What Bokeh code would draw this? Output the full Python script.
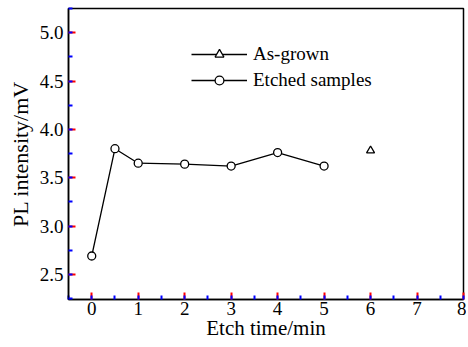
from bokeh.plotting import figure
from bokeh.models import Legend, LegendItem, Range1d, SingleIntervalTicker, CustomJSTickFormatter
from bokeh.embed import file_html
from bokeh.resources import INLINE

etch_time = [0, 0.5, 1, 2, 3, 4, 5]
etched_pl = [2.69, 3.80, 3.65, 3.64, 3.62, 3.76, 3.62]
asgrown_time = [6]
asgrown_pl = [3.78]

FONT = "Liberation Serif"

p = figure(width=466, height=345, output_backend="svg", toolbar_location=None,
           x_range=Range1d(-0.5, 8), y_range=Range1d(2.24, 5.25),
           min_border_left=68, min_border_right=3, min_border_top=8, min_border_bottom=46)
p.grid.visible = False
p.outline_line_color = "black"
p.outline_line_width = 1.5

p.xaxis.ticker = SingleIntervalTicker(interval=1, num_minor_ticks=2)
p.yaxis.ticker = SingleIntervalTicker(interval=0.5, num_minor_ticks=2)
p.yaxis.formatter = CustomJSTickFormatter(code="return tick.toFixed(1);")

p.axis.major_tick_in = 7
p.axis.major_tick_out = 0
p.axis.minor_tick_in = 4
p.axis.minor_tick_out = 0
p.axis.axis_line_width = 1.5
p.axis.major_tick_line_width = 2
p.axis.major_tick_line_color = "red"
p.axis.minor_tick_line_width = 2
p.axis.minor_tick_line_color = "blue"
p.axis.axis_line_color = "black"
p.axis.major_label_text_font = FONT
p.axis.major_label_text_font_size = "19px"
p.axis.major_label_text_color = "black"
p.axis.axis_label_text_font = FONT
p.axis.axis_label_text_font_style = "normal"
p.axis.axis_label_text_color = "black"

p.xaxis.axis_label = "Etch time/min"
p.yaxis.axis_label = "PL intensity/mV"
p.xaxis.axis_label_text_font_size = "21px"
p.yaxis.axis_label_text_font_size = "22px"
p.xaxis.major_label_standoff = 2
p.xaxis.axis_label_standoff = -2
p.yaxis.major_label_standoff = 5
p.yaxis.axis_label_standoff = 4

l1 = p.line(etch_time, etched_pl, line_color="black", line_width=1.3)
s1 = p.scatter(etch_time, etched_pl, marker="circle", size=8, fill_color="white",
               line_color="black", line_width=1.3)
l2 = p.line(asgrown_time, asgrown_pl, line_color="black", line_width=1.3)
s2 = p.scatter(asgrown_time, asgrown_pl, marker="triangle", size=8, fill_color="white",
               line_color="black", line_width=1.3)

legend = Legend(items=[LegendItem(label="As-grown", renderers=[l2, s2]),
                       LegendItem(label="Etched samples", renderers=[l1, s1])],
                location=(123, 208), padding=0, margin=0, spacing=4,
                glyph_width=56, glyph_height=22, label_standoff=6,
                label_text_font=FONT, label_text_font_size="19px",
                label_text_color="black", border_line_color=None,
                background_fill_alpha=0)
p.add_layout(legend)

open("out.html", "w").write(file_html(p, INLINE))
